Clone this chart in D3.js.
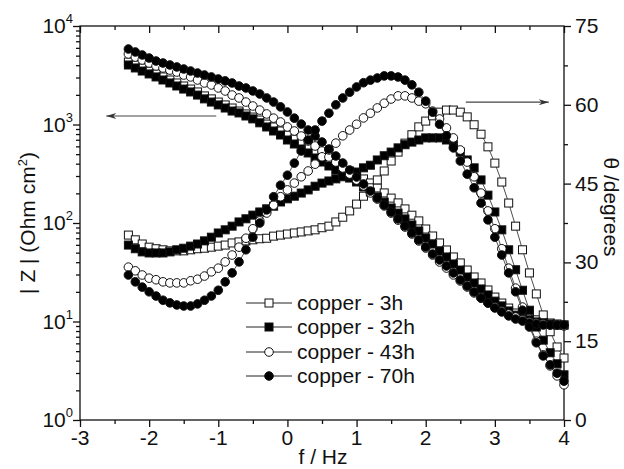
<!DOCTYPE html>
<html lang="en">
<head>
<meta charset="UTF-8"/>
<title>Bode plot copper</title>
<script src="https://cdn.jsdelivr.net/npm/d3@7"></script>
<style>
  body { margin: 0; background: #fff; }
  svg text { font-family: "Liberation Sans", Arial, sans-serif; fill: #111; }
</style>
</head>
<body>
<div id="chart"></div>
<script>
// log10 of frequency, one point every tenth of a decade
var logF = [-2.3,-2.2,-2.1,-2.0,-1.9,-1.8,-1.7,-1.6,-1.5,-1.4,-1.3,-1.2,-1.1,-1.0,-0.9,-0.8,-0.7,-0.6,-0.5,-0.4,-0.3,-0.2,-0.1,0.0,
  0.1,0.2,0.3,0.4,0.5,0.6,0.7,0.8,0.9,1.0,1.1,1.2,1.3,1.4,1.5,1.6,1.7,1.8,1.9,2.0,
  2.1,2.2,2.3,2.4,2.5,2.6,2.7,2.8,2.9,3.0,3.1,3.2,3.3,3.4,3.5,3.6,3.7,3.8,3.9,4.0];

// |Z| in Ohm cm2
var z3h = [4310,4020,3750,3490,3260,3040,2830,2640,2460,2290,2140,1950,1820,1690,1580,1470,1370,1280,1190,1110,1010,944,859,782,
  712,649,591,538,490,446,406,370,337,307,280,255,227,202,179,160,139,120,105,86.9,
  73.8,62.7,53.2,45.2,39.3,33.3,28.3,24.6,20.9,17.7,15.4,13.7,12.2,11.4,10.9,10.4,9.9,9.66,9.44,9.21];
var z32h = [4020,3750,3490,3260,3040,2830,2640,2460,2290,2140,1990,1820,1690,1580,1470,1370,1310,1220,1140,1040,944,859,782,696,
  634,564,514,457,416,379,345,314,286,261,232,206,184,163,142,126,110,95.5,83.0,70.4,
  61.2,52.0,45.2,38.4,33.3,28.3,24.6,21.4,18.6,16.1,14.4,12.8,11.6,10.9,10.4,9.9,9.66,9.44,9.21,9.21];
var z43h = [5200,4840,4520,4210,3930,3750,3570,3410,3180,3040,2830,2640,2520,2350,2190,1990,1860,1690,1540,1400,1280,1160,1060,944,
  859,764,680,605,538,468,416,362,314,273,238,202,175,149,126,107,91.0,77.3,65.7,55.7,
  47.3,40.2,34.9,29.7,25.8,22.4,19.5,17.3,15.4,14.0,12.8,11.9,11.1,10.4,9.9,9.66,9.44,9.21,9.21,9.0];
var z70h = [5840,5450,5080,4730,4410,4210,4020,3840,3660,3490,3330,3180,3040,2900,2770,2640,2460,2350,2190,2040,1860,1690,1510,1340,
  1160,1010,879,764,664,564,479,406,345,293,249,211,179,152,129,110,93.2,79.1,67.2,57.0,
  48.4,42.1,36.6,31.1,26.4,22.9,19.9,17.3,15.4,13.7,12.5,11.4,10.6,10.1,9.66,9.44,9.21,9.21,9.21,9.21];

// phase angle in degrees
var ph3h = [35.2,34.3,33.5,32.9,32.6,32.4,32.2,32.2,32.2,32.4,32.6,32.7,32.9,33.1,33.3,33.7,33.9,34.1,34.3,34.5,34.6,35.0,35.2,35.4,
  35.6,35.8,36.0,36.2,36.6,36.9,37.7,38.6,39.8,41.1,42.6,44.2,45.7,47.4,49.3,51.0,52.7,54.3,55.8,56.9,
  57.9,58.6,59.0,59.0,58.6,57.7,56.2,54.4,52.0,48.9,45.3,41.3,36.9,32.4,28.0,24.0,20.0,16.8,13.9,11.8];
var ph32h = [33.3,32.6,32.0,31.8,31.8,31.8,32.0,32.4,32.7,33.1,33.5,34.1,34.8,35.6,36.2,36.9,37.7,38.3,39.0,39.6,40.2,40.7,41.5,42.1,
  42.6,43.2,43.8,44.5,45.1,45.5,45.9,46.3,46.6,47.2,48.0,48.5,49.5,50.3,51.0,51.8,52.4,52.9,53.3,53.7,
  53.7,53.7,53.3,52.4,51.0,49.5,48.0,45.7,42.8,39.6,36.2,32.4,28.6,24.7,20.9,17.7,15.2,12.8,10.7,8.6];
var ph43h = [29.1,28.4,27.6,27.0,26.7,26.3,26.1,26.1,26.1,26.5,26.8,27.4,28.2,28.9,30.1,31.4,32.9,34.6,36.4,37.9,39.4,40.9,42.5,43.8,
  45.1,46.3,47.4,48.7,50.1,51.4,52.7,54.1,55.2,56.3,57.5,58.4,59.4,60.3,61.1,61.7,61.7,61.3,60.7,60.2,
  58.8,57.3,55.6,53.7,51.4,49.1,46.3,43.2,39.8,36.4,32.6,28.9,25.1,21.5,18.1,15.0,12.4,10.3,8.4,6.7];
var ph70h = [27.6,26.3,25.3,24.4,23.6,22.8,22.3,21.9,21.7,21.7,22.1,22.8,23.6,24.7,26.3,28.0,30.1,32.4,34.8,37.5,40.0,42.5,44.7,46.6,
  48.9,51.2,53.3,55.2,56.9,58.4,60.0,61.3,62.4,63.4,64.2,64.7,65.1,65.5,65.5,65.3,64.7,63.8,62.4,60.7,
  58.6,56.3,54.1,51.8,49.3,46.8,44.2,41.3,38.1,34.8,31.4,28.0,24.4,20.9,17.7,14.7,12.2,10.5,8.9,7.4];

var seriesNames = ['copper - 3h', 'copper - 32h', 'copper - 43h', 'copper - 70h'];
var seriesShapes = ['square', 'square', 'circle', 'circle'];
var seriesFilled = [false, true, false, true];
var zData = [z3h, z32h, z43h, z70h];
var phData = [ph3h, ph32h, ph43h, ph70h];

var xTicks = [-3,-2,-1,0,1,2,3,4];
var zTicks = [1,10,100,1000,10000];
var phTicks = [0,15,30,45,60,75];

var W = 624, H = 469;
var plotL = 80, plotR = 564, plotT = 26, plotB = 420;
var fs = 21;

var svg = d3.select('#chart').append('svg')
  .attr('width', W).attr('height', H);

var x = d3.scaleLinear().domain([-3, 4]).range([plotL, plotR]);
var yZ = d3.scaleLog().domain([1, 1e4]).range([plotB, plotT]);
var yP = d3.scaleLinear().domain([0, 75]).range([plotB, plotT]);

var axisColor = '#111';

// minor tick positions
var xMinor = d3.range(-2.5, 4, 1);
var zMinor = [];
zTicks.slice(0, -1).forEach(function(d){ for (var k = 2; k < 10; k++) zMinor.push(d*k); });
var phMinor = d3.range(7.5, 75, 15);

function styleAxis(g){
  g.select('.domain').remove();
  g.selectAll('line').attr('stroke', axisColor).attr('stroke-width', 1.3);
}

// bottom axis (ticks outward)
svg.append('g').attr('transform', 'translate(0,' + plotB + ')')
  .call(d3.axisBottom(x).tickValues(xTicks).tickSize(7).tickFormat(''))
  .call(styleAxis);
svg.append('g').attr('transform', 'translate(0,' + plotB + ')')
  .call(d3.axisBottom(x).tickValues(xMinor).tickSize(4).tickFormat(''))
  .call(styleAxis);
// top axis (ticks inward)
svg.append('g').attr('transform', 'translate(0,' + plotT + ')')
  .call(d3.axisBottom(x).tickValues(xTicks).tickSize(7).tickFormat(''))
  .call(styleAxis);
svg.append('g').attr('transform', 'translate(0,' + plotT + ')')
  .call(d3.axisBottom(x).tickValues(xMinor).tickSize(4).tickFormat(''))
  .call(styleAxis);
// left log axis
svg.append('g').attr('transform', 'translate(' + plotL + ',0)')
  .call(d3.axisLeft(yZ).tickValues(zTicks).tickSize(7).tickFormat(''))
  .call(styleAxis);
svg.append('g').attr('transform', 'translate(' + plotL + ',0)')
  .call(d3.axisLeft(yZ).tickValues(zMinor).tickSize(4).tickFormat(''))
  .call(styleAxis);
// right phase axis
svg.append('g').attr('transform', 'translate(' + plotR + ',0)')
  .call(d3.axisRight(yP).tickValues(phTicks).tickSize(7).tickFormat(''))
  .call(styleAxis);
svg.append('g').attr('transform', 'translate(' + plotR + ',0)')
  .call(d3.axisRight(yP).tickValues(phMinor).tickSize(4).tickFormat(''))
  .call(styleAxis);

// frame
svg.append('rect')
  .attr('x', plotL).attr('y', plotT)
  .attr('width', plotR - plotL).attr('height', plotB - plotT)
  .attr('fill', 'none').attr('stroke', axisColor).attr('stroke-width', 1.3);

// tick labels
svg.selectAll('.xlab').data(xTicks).enter().append('text')
  .attr('x', function(d){ return x(d); })
  .attr('y', plotB + 25)
  .attr('text-anchor', 'middle')
  .attr('font-size', fs)
  .text(function(d){ return d; });

var zl = svg.selectAll('.zlab').data(zTicks).enter().append('text')
  .attr('x', plotL - 7)
  .attr('y', function(d){ return yZ(d) + 7; })
  .attr('text-anchor', 'end')
  .attr('font-size', fs);
zl.append('tspan').text('10');
zl.append('tspan').attr('font-size', 13).attr('dy', -10)
  .text(function(d){ return Math.round(Math.log10(d)); });

svg.selectAll('.plab').data(phTicks).enter().append('text')
  .attr('x', plotR + 11)
  .attr('y', function(d){ return yP(d) + 7; })
  .attr('font-size', fs)
  .text(function(d){ return d; });

// axis titles
svg.append('text')
  .attr('x', 323).attr('y', 464)
  .attr('text-anchor', 'middle').attr('font-size', fs)
  .text('f / Hz');

var lt = svg.append('text')
  .attr('transform', 'translate(35,' + ((plotT + plotB)/2) + ') rotate(-90)')
  .attr('text-anchor', 'middle').attr('font-size', fs);
lt.append('tspan').text('| Z | (Ohm cm');
lt.append('tspan').attr('font-size', 13).attr('dy', -8).text('2');
lt.append('tspan').attr('dy', 8).text(')');

svg.append('text')
  .attr('transform', 'translate(604,207) rotate(90)')
  .attr('text-anchor', 'middle').attr('font-size', fs)
  .text('\u03b8 /degrees');

// arrows
var defs = svg.append('defs');
defs.append('marker').attr('id', 'head')
  .attr('viewBox', '0 0 10 6').attr('refX', 10).attr('refY', 3)
  .attr('markerWidth', 11).attr('markerHeight', 6)
  .attr('markerUnits', 'userSpaceOnUse').attr('orient', 'auto')
  .append('path').attr('d', 'M0,0 L10,3 L0,6 L3,3 Z').attr('fill', '#333');

svg.append('line')
  .attr('x1', x(-1.03)).attr('x2', x(-2.62))
  .attr('y1', yZ(1220)).attr('y2', yZ(1220))
  .attr('stroke', '#444').attr('stroke-width', 1.2)
  .attr('marker-end', 'url(#head)');
svg.append('line')
  .attr('x1', x(2.58)).attr('x2', x(3.78))
  .attr('y1', yP(60.5)).attr('y2', yP(60.5))
  .attr('stroke', '#444').attr('stroke-width', 1.2)
  .attr('marker-end', 'url(#head)');

// data
var plot = svg.append('g');

function drawMarker(g, shape, filled, cx, cy){
  if (shape === 'square') {
    g.append('rect').attr('x', cx - 4).attr('y', cy - 4)
      .attr('width', 8).attr('height', 8)
      .attr('fill', filled ? '#000' : '#fff')
      .attr('stroke', '#111').attr('stroke-width', 1);
  } else {
    g.append('circle').attr('cx', cx).attr('cy', cy).attr('r', 4.3)
      .attr('fill', filled ? '#000' : '#fff')
      .attr('stroke', '#111').attr('stroke-width', 1);
  }
}

seriesNames.forEach(function(name, i){
  var zs = zData[i], ps = phData[i];
  var lineZ = d3.line().x(function(d, j){ return x(logF[j]); }).y(function(d){ return yZ(d); });
  var lineP = d3.line().x(function(d, j){ return x(logF[j]); }).y(function(d){ return yP(d); });
  var g = plot.append('g');
  g.append('path').attr('d', lineZ(zs)).attr('fill', 'none').attr('stroke', '#222').attr('stroke-width', 0.8);
  g.append('path').attr('d', lineP(ps)).attr('fill', 'none').attr('stroke', '#222').attr('stroke-width', 0.8);
  logF.forEach(function(f, j){
    drawMarker(g, seriesShapes[i], seriesFilled[i], x(f), yZ(zs[j]));
    drawMarker(g, seriesShapes[i], seriesFilled[i], x(f), yP(ps[j]));
  });
});

// legend
var legY = [303, 327, 352, 376];
seriesNames.forEach(function(name, i){
  var g = svg.append('g');
  g.append('line').attr('x1', 246).attr('x2', 292)
    .attr('y1', legY[i]).attr('y2', legY[i])
    .attr('stroke', '#222').attr('stroke-width', 1);
  drawMarker(g, seriesShapes[i], seriesFilled[i], 269, legY[i]);
  g.append('text').attr('x', 297).attr('y', legY[i] + 7)
    .attr('font-size', fs).text(name);
});
</script>
</body>
</html>
